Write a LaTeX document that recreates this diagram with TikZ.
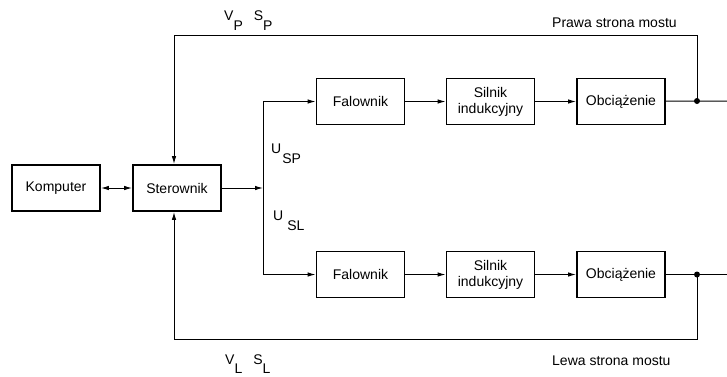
\documentclass[tikz,border=0pt]{standalone}
\usepackage{fontspec}
\setmainfont{Liberation Sans}
\usetikzlibrary{arrows.meta}
\begin{document}
\begin{tikzpicture}[x=1pt,y=-1pt,
 box/.style={draw, line width=1.8pt, minimum width=88pt, minimum height=46pt, inner sep=0pt, align=center, font=\fontsize{14}{16}\selectfont},
 conn/.style={line width=1pt},
 tip/.tip={Latex[length=8pt,width=4.5pt]},
 arr/.style={conn, -tip},
 dot/.style={circle, fill, inner sep=0pt, minimum size=6pt},
 lbl/.style={inner sep=0pt, font=\fontsize{14}{16}\selectfont}]
\useasboundingbox (0,0) rectangle (727,376);
% boxes
\node[box] (komp) at (56,188) {Komputer};
\node[box] (ster) at (177,188) {Sterownik};
\node[box] (fal1) at (360.5,101.5) {Falownik};
\node[box] (sil1) at (490.5,101.5) {Silnik\\indukcyjny};
\node[box] (obc1) at (621,101.5) {Obciążenie};
\node[box] (fal2) at (360.5,274.5) {Falownik};
\node[box] (sil2) at (490.5,274.5) {Silnik\\indukcyjny};
\node[box] (obc2) at (621,274.5) {Obciążenie};
% helper points
\coordinate (split) at (263,188);
\node[dot] (d1) at (697,101) {};
\node[dot] (d2) at (697,274.5) {};
\coordinate (out1) at (727,101);
\coordinate (out2) at (727,274.5);
\coordinate (fbT) at (174,35);
\coordinate (fbB) at (174,339);
% connectors
\draw[conn, tip-tip] (komp) -- (ster);
\draw[arr] (ster) -- (split);
\draw[arr] (split) |- (fal1.west);
\draw[arr] (split) |- (fal2.west);
\draw[arr] (fal1) -- (sil1);
\draw[arr] (sil1) -- (obc1);
\draw[conn] (obc1) -- (d1.center) -- (out1);
\draw[arr] (fal2) -- (sil2);
\draw[arr] (sil2) -- (obc2);
\draw[conn] (obc2) -- (d2.center) -- (out2);
\draw[arr] (d1.center) |- (fbT) -- (fbT |- ster.north);
\draw[arr] (d2.center) |- (fbB) -- (fbB |- ster.south);
% labels
\node[lbl, anchor=base west] (prawa) at (552,27) {Prawa strona mostu};
\node[lbl, anchor=base west] (lewa) at (552,365) {Lewa strona mostu};
\node[lbl, anchor=base west] (vsp) at (224,20) {V\raisebox{-10pt}{P}\hspace{11pt}S\raisebox{-10pt}{P}};
\node[lbl, anchor=base west] (vsl) at (225,364) {V\raisebox{-9pt}{L}\hspace{11pt}S\raisebox{-9pt}{L}};
\node[lbl, anchor=base west] (usp) at (271,153) {U\hspace{1pt}\raisebox{-10pt}{SP}};
\node[lbl, anchor=base west] (usl) at (273,220) {U\hspace{4pt}\raisebox{-10pt}{SL}};
\end{tikzpicture}
\end{document}
